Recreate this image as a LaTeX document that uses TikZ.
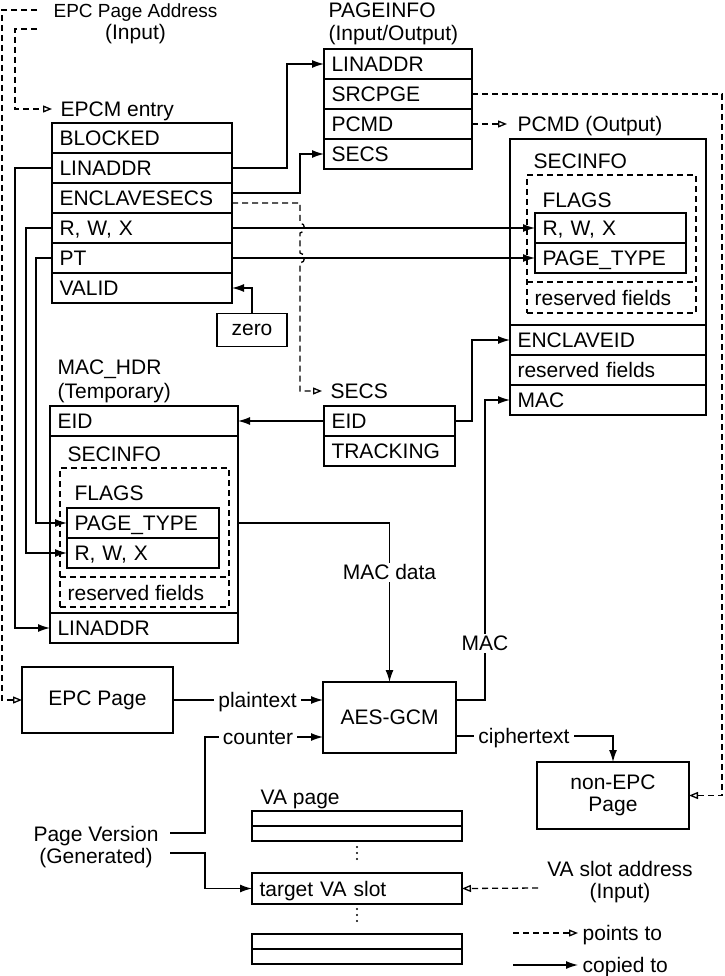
\documentclass[tikz,border=0pt]{standalone}
\usepackage{fontspec}
\setmainfont{Liberation Sans}
\usetikzlibrary{arrows.meta}

\tikzset{
  field/.style={draw, anchor=north west, outer sep=0pt, minimum height=30pt, inner xsep=7.5pt, inner ysep=0pt,
    text height=15pt, text depth=0pt, text width=#1, align=left},
  region/.style 2 args={draw, anchor=north west, outer sep=0pt, minimum width=#1, minimum height=#2, inner sep=0pt},
  dashbox/.style 2 args={region={#1}{#2}, dash pattern=on 6pt off 4pt},
  slot/.style={draw, anchor=north west, outer sep=0pt, minimum width=210pt, minimum height=#1, inner sep=0pt},
  lbl/.style={inner sep=0pt, anchor=west, text height=15pt, text depth=0pt},
  lbltwo/.style={inner sep=0pt, align=#1},
  tag/.style={fill=white, inner xsep=4pt, inner ysep=2pt, text height=15pt, text depth=0pt},
  plainbox/.style={draw, outer sep=0pt, inner sep=0pt, align=center},
  copyto/.style={-{Latex[length=12pt,width=8pt]}},
  pointsto/.style={dash pattern=on 6pt off 4pt, -{Triangle[open,length=9pt,width=7pt]}},
}

\begin{document}
\begin{tikzpicture}[x=1pt, y=-1pt, line width=1.3pt, font=\fontsize{21}{22.5}\selectfont]
\useasboundingbox (0,0) rectangle (724,976);

% labels at the top
\node[lbltwo=center, anchor=north] (addr) at (135.5,3) {{\fontsize{19}{22.5}\selectfont EPC Page Address}\\(Input)};
\node[lbltwo=left, anchor=north west] (pilbl) at (328,2.5) {PAGEINFO\\(Input/Output)};
\node[lbl] (epcmlbl) at (60,109) {EPCM entry};
\coordinate (adr1) at (37,10);
\coordinate (adr2) at (37,29);

% EPCM entry
\node[field=165pt] (ep-blk) at (52,123) {BLOCKED};
\node[field=165pt] (ep-lin) at (ep-blk.south west) {LINADDR};
\node[field=165pt] (ep-es) at (ep-lin.south west) {ENCLAVESECS};
\node[field=165pt] (ep-rwx) at (ep-es.south west) {R, W, X};
\node[field=165pt] (ep-pt) at (ep-rwx.south west) {PT};
\node[field=165pt] (ep-val) at (ep-pt.south west) {VALID};
\node[plainbox, minimum width=70pt, minimum height=33pt] (zero) at (252,330) {zero};

% PAGEINFO
\node[field=133pt] (pi-lin) at (324,49) {LINADDR};
\node[field=133pt] (pi-src) at (pi-lin.south west) {SRCPGE};
\node[field=133pt] (pi-pcmd) at (pi-src.south west) {PCMD};
\node[field=133pt] (pi-secs) at (pi-pcmd.south west) {SECS};

% PCMD
\node[lbl] (pcmdout) at (517,124) {PCMD (Output)};
\node[region={196pt}{186pt}] (pc-sec) at (510,139) {};
\node[lbl] (pc-seclbl) at (533,161) {SECINFO};
\node[dashbox={169pt}{138pt}] (pc-secbox) at (527,175) {};
\draw[dash pattern=on 6pt off 4pt] (527,282) -- (696,282);
\node[lbl] (pc-flagslbl) at (542,200) {FLAGS};
\node[field=136pt] (pc-rwx) at (535,213) {R, W, X};
\node[field=136pt] (pc-pt) at (pc-rwx.south west) {PAGE\_TYPE};
\node[lbl] (pc-res1) at (534,298) {reserved fields};
\node[field=181pt] (pc-eid) at (pc-sec.south west) {ENCLAVEID};
\node[field=181pt] (pc-res2) at (pc-eid.south west) {reserved fields};
\node[field=181pt] (pc-mac) at (pc-res2.south west) {MAC};

% MAC_HDR
\node[lbltwo=left, anchor=north west] (mhlbl) at (57,359.5) {MAC\_HDR\\[1.5pt](Temporary)};
\node[field=173pt] (mh-eid) at (50,406) {EID};
\node[region={188pt}{177pt}] (mh-sec) at (mh-eid.south west) {};
\node[lbl] (mh-seclbl) at (67,454) {SECINFO};
\node[dashbox={169pt}{139pt}] (mh-secbox) at (60,468) {};
\draw[dash pattern=on 6pt off 4pt] (60,577) -- (229,577);
\node[lbl] (mh-flagslbl) at (74,493) {FLAGS};
\node[field=137pt] (mh-pt) at (67,508) {PAGE\_TYPE};
\node[field=137pt] (mh-rwx) at (mh-pt.south west) {R, W, X};
\node[lbl] (mh-res) at (67,593) {reserved fields};
\node[field=173pt] (mh-lin) at (mh-sec.south west) {LINADDR};

% SECS
\node[lbl] (secslbl) at (330,391) {SECS};
\node[field=116pt] (secs-eid) at (324,406) {EID};
\node[field=116pt] (secs-trk) at (secs-eid.south west) {TRACKING};

% pages and cipher
\node[plainbox, minimum width=151pt, minimum height=66pt] (epcpage) at (97.5,700) {EPC Page};
\node[plainbox, line width=2.4pt, minimum width=133pt, minimum height=71pt] (aes) at (389.5,717.5) {AES-GCM};
\node[plainbox, minimum width=152pt, minimum height=67pt] (necp) at (613,795.5) {non-EPC\\Page};

% VA page
\node[lbl] (valbl) at (260,797) {VA page};
\node[slot=15pt] (va1a) at (252,811) {};
\node[slot=15pt] (va1b) at (va1a.south west) {};
\node[field=195pt, minimum height=31pt] (vatgt) at (252,873) {target VA slot};
\node[slot=15pt] (va3a) at (252,934) {};
\node[slot=15pt] (va3b) at (va3a.south west) {};
\foreach \y in {853,915}
  \foreach \d in {-6,0,6}
    \fill (357,\y+\d) circle (1.1pt);
\node[lbltwo=center, anchor=north] (pagever) at (96,825.5) {Page Version\\(Generated)};
\coordinate (pv1) at (170,833);
\coordinate (pv2) at (170,853);
\node[lbltwo=center, anchor=north] (vaaddr) at (620,860.5) {VA slot address\\(Input)};
\coordinate (vaa) at (538,888);

% legend
\node[lbl] (lgpt) at (582,933) {points to};
\node[lbl] (lgcp) at (582,965) {copied to};
\draw[pointsto] ([xshift=-69pt]lgpt.west) -- ([xshift=-4pt]lgpt.west);
\draw[copyto] ([xshift=-69pt]lgcp.west) -- ([xshift=-4pt]lgcp.west);

% pointers
\draw[pointsto] (adr1) -- (2,10) |- (epcpage.west);
\draw[pointsto] (adr2) -- (15,29) |- ([xshift=-8pt]epcmlbl.west);
\draw[pointsto] (pi-pcmd.east) -- ([xshift=-10pt]pcmdout.west);
\draw[pointsto] (pi-src.east) -- ++(250,0) |- (necp.east);
\draw[pointsto] ([yshift=-5pt]ep-es.east) -- ++(68,0) -- (300,223)
  .. controls (306,223) and (306,233) .. (300,233) -- (300,253)
  .. controls (306,253) and (306,263) .. (300,263) |- ([xshift=-8pt]secslbl.west);
\draw[pointsto] (vaa) -- (vatgt.east);

% copies
\draw[copyto] (ep-lin.east) -- ++(55,0) |- (pi-lin.west);
\draw[copyto] ([yshift=5pt]ep-es.east) -- ++(68,0) |- (pi-secs.west);
\draw[copyto] (ep-rwx.east) -- (pc-rwx.west);
\draw[copyto] (ep-pt.east) -- (pc-pt.west);
\draw[copyto] (zero.north) |- (ep-val.east);
\draw[copyto] (ep-lin.west) -- ++(-37,0) |- (mh-lin.west);
\draw[copyto] (ep-rwx.west) -- ++(-26,0) |- (mh-rwx.west);
\draw[copyto] (ep-pt.west) -- ++(-16,0) |- (mh-pt.west);
\draw[copyto] (secs-eid.west) -- (mh-eid.east);
\draw[copyto] (secs-eid.east) -- ++(17,0) |- (pc-eid.west);
\draw[copyto] (mh-pt.east -| mh-sec.east) -| (aes.north);
\draw[copyto] ([yshift=17.5pt]aes.east) -- ++(29,0) |- (pc-mac.west);
\draw[copyto] (epcpage.east) -- ([yshift=17.5pt]aes.west);
\draw[copyto] (pv1) -- ++(35,0) |- ([yshift=-19.5pt]aes.west);
\draw[copyto] (pv2) -- ++(35,0) |- (vatgt.west);
\draw[copyto] ([yshift=-18.5pt]aes.east) -| (necp.north);

% labels on the lines
\node[tag] (t-macdata) at (389.5,572) {MAC data};
\node[tag] (t-mac) at (485,643) {MAC};
\node[tag] (t-plain) at (257.5,700) {plaintext};
\node[tag] (t-counter) at (258,737) {counter};
\node[tag] (t-cipher) at (524,736) {ciphertext};
\end{tikzpicture}
\end{document}
